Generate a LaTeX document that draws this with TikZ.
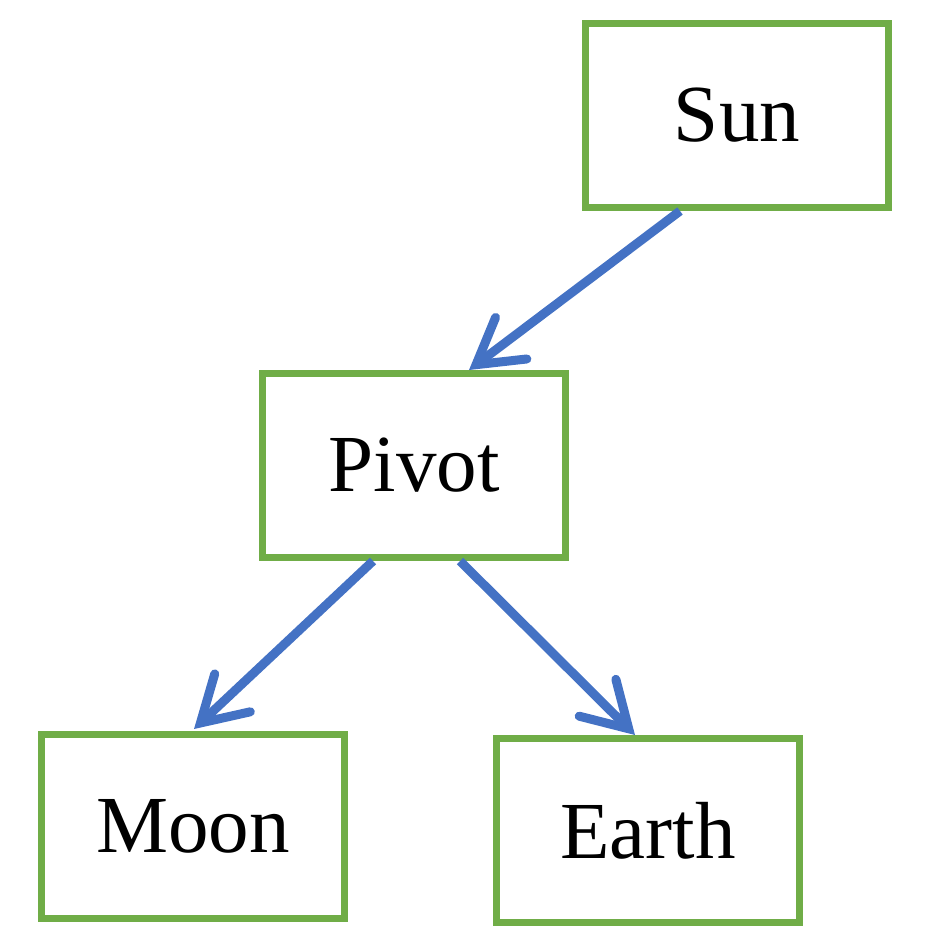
\documentclass[tikz,border=0pt]{standalone}
\usepackage{fontspec}
\setmainfont{Liberation Serif}
\usetikzlibrary{arrows.meta,calc}
\definecolor{boxgreen}{HTML}{70AD47}
\definecolor{arrowblue}{HTML}{4472C4}
\begin{document}
\begin{tikzpicture}[x=1pt,y=-1pt,
  box/.style={draw=boxgreen,line width=7pt,minimum width=303pt,minimum height=184pt,inner sep=0pt,
    font=\fontsize{81}{97}\selectfont},
  conn/.style={draw=arrowblue,line width=9pt,
    -{Straight Barb[length=44pt,width=52pt,line cap=round]}}]
\useasboundingbox (0,0) rectangle (930,950);
\node[box] (sun) at (737,115.5) {Sun};
\node[box] (pivot) at (414,465.5) {Pivot};
\node[box] (moon) at (193,826.5) {Moon};
\node[box] (earth) at (648,830.5) {Earth};
\draw[conn] ($(sun.south)+(-57,0)$) -- ($(pivot.north)+(55,0)$);
\draw[conn] ($(pivot.south)+(-41,0)$) -- ($(moon.north)+(1,-2)$);
\draw[conn] ($(pivot.south)+(46,0)$) -- ($(earth.north)+(-13,0)$);
\end{tikzpicture}
\end{document}
